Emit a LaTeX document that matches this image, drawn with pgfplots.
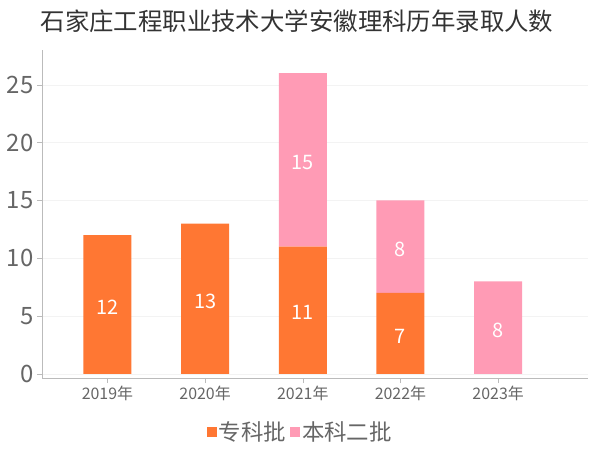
\documentclass[border=0pt]{standalone}
\usepackage{pgfplots}
\pgfplotsset{compat=1.18}
\usepackage{fontspec}
\setmainfont{Noto Sans CJK SC}
\definecolor{zk}{HTML}{FF7733}
\definecolor{bk}{HTML}{FF9BB5}
\definecolor{txt}{HTML}{666666}
\definecolor{ttl}{HTML}{333333}
\definecolor{axl}{HTML}{BBBBBB}
\definecolor{grd}{HTML}{F3F3F3}

\begin{document}
\begin{tikzpicture}
\path[use as bounding box] (0,0) rectangle (600bp,450bp);
\pgfplotsset{base/.style={
    scale only axis, width=546bp, height=328bp,
    at={(42bp,72bp)}, anchor=south west,
    xmin=-0.67, xmax=4.92, ymin=-0.35, ymax=28}}

% title
\node[font=\fontsize{24.5}{28}\selectfont, text=ttl] at (297bp,429bp)
    {石家庄工程职业技术大学安徽理科历年录取人数};

\begin{axis}[
    base,
    ybar stacked,
    bar width=48bp,
    axis x line*=bottom,
    axis y line*=left,
    axis line style={axl},
    tick style={axl},
    tick align=outside,
    major tick length=5bp,
    xtick={0,1,2,3,4},
    xticklabels={2019年,2020年,2021年,2022年,2023年},
    ytick={0,5,10,15,20,25},
    ymajorgrids,
    grid style={grd},
    /pgf/number format/assume math mode=true,
    yticklabel style={font=\fontsize{24}{26}\selectfont, text=txt},
    xticklabel style={font=\fontsize{16}{18}\selectfont, text=txt},
    legend style={at={(0.473,-0.165)}, anchor=center, draw=none, fill=none,
        legend columns=2, font=\fontsize{22.5}{25}\selectfont, text=txt,
        /tikz/every even column/.append style={column sep=2bp}},
]
\addplot[fill=zk, draw=none,
    legend image code/.code={\fill[zk] (0bp,-5bp) rectangle (10bp,5bp);}]
    coordinates {(0,12) (1,13) (2,11) (3,7) (4,0)};
\addplot[fill=bk, draw=none,
    legend image code/.code={\fill[bk] (0bp,-5bp) rectangle (10bp,5bp);}]
    coordinates {(0,0) (1,0) (2,15) (3,8) (4,8)};
\legend{专科批,本科二批}
\end{axis}

% value labels, centred in each segment
\begin{axis}[base, hide axis, clip=false]
\addplot[draw=none, mark=none, nodes near coords, point meta=explicit symbolic,
    nodes near coords style={anchor=center, yshift=-2.5bp, text=white, font=\fontsize{20}{22}\selectfont}]
    table[meta=lab] {
x y lab
0 6 12
1 6.5 13
2 5.5 11
2 18.5 15
3 3.5 7
3 11 8
4 4 8
};
\end{axis}
\end{tikzpicture}
\end{document}
